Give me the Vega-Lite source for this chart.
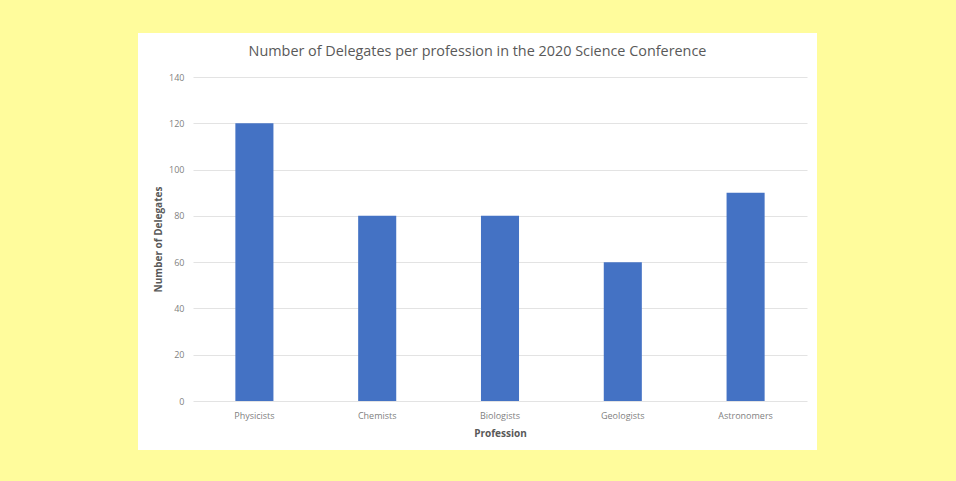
{
  "$schema": "https://vega.github.io/schema/vega-lite/v6.json",
  "autosize": {"type": "none"},
  "width": 679,
  "height": 417,
  "padding": {"left": 138, "top": 33, "right": 139, "bottom": 31},
  "background": "#FFFC9C",
  "title": {
    "text": "Number of Delegates per profession in the 2020 Science Conference",
    "anchor": "middle",
    "frame": "group",
    "offset": -26,
    "font": "Open Sans",
    "fontSize": 14.4,
    "fontWeight": "normal",
    "color": "#595959"
  },
  "data": {
    "values": [
      {"profession": "Physicists", "delegates": 120},
      {"profession": "Chemists", "delegates": 80},
      {"profession": "Biologists", "delegates": 80},
      {"profession": "Geologists", "delegates": 60},
      {"profession": "Astronomers", "delegates": 90}
    ]
  },
  "mark": {"type": "bar", "color": "#4472C4"},
  "encoding": {
    "x": {
      "field": "profession",
      "type": "nominal",
      "sort": null,
      "scale": {"range": [55, 669], "paddingInner": 0.69, "paddingOuter": 0.345},
      "axis": {
        "title": "Profession",
        "labelAngle": 0,
        "offset": -49,
        "ticks": false,
        "domain": false,
        "labelPadding": 10,
        "titlePadding": 8
      }
    },
    "y": {
      "field": "delegates",
      "type": "quantitative",
      "scale": {"domain": [0, 140], "range": [368, 44], "nice": false},
      "axis": {
        "title": "Number of Delegates",
        "values": [0, 20, 40, 60, 80, 100, 120, 140],
        "offset": -55,
        "ticks": false,
        "domain": false,
        "labelPadding": 9,
        "titlePadding": 5
      }
    }
  },
  "config": {
    "view": {"fill": "white", "stroke": null},
    "axis": {
      "labelFont": "Open Sans",
      "labelFontSize": 9,
      "labelColor": "#7F7F7F",
      "titleFont": "Open Sans",
      "titleFontSize": 10,
      "titleFontWeight": "bold",
      "titleColor": "#595959",
      "gridColor": "#E3E3E3",
      "gridWidth": 1
    }
  }
}
